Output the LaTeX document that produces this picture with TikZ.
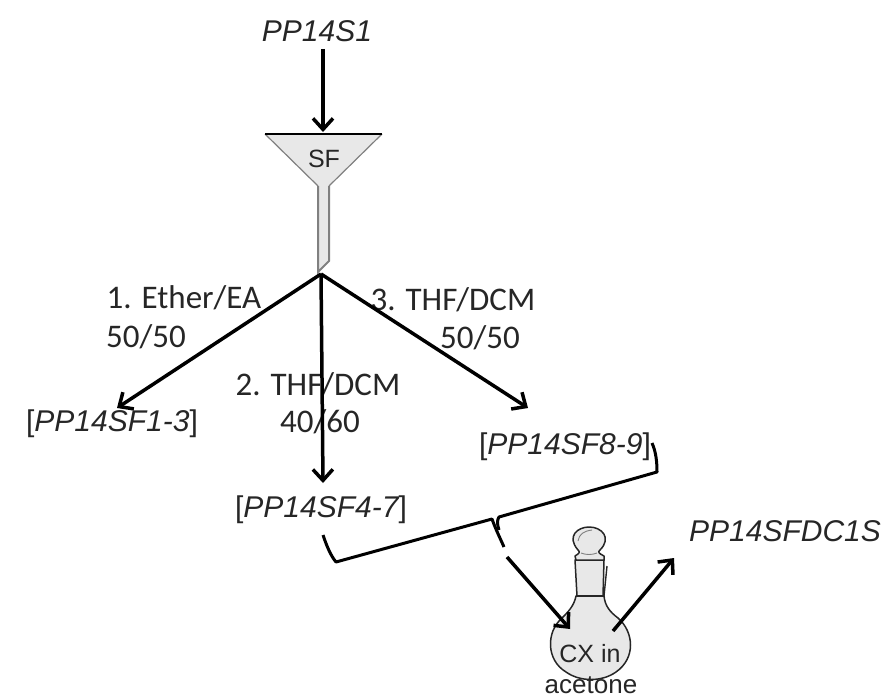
\documentclass[tikz,border=0pt]{standalone}
\usepackage{fontspec}
\setmainfont{Liberation Sans}
\newfontfamily\calib{Carlito}
\usetikzlibrary{arrows.meta}
\definecolor{fillgrey}{HTML}{E8E8E8}
\definecolor{ink}{HTML}{262626}
\tikzset{
  flow/.style={draw=black,line width=3.5pt,-{Straight Barb[length=11pt,width=20pt,line width=3.5pt]}},
  brace/.style={draw=black,line width=3pt,line join=round},
  sample/.style={inner sep=0pt,font=\fontsize{30}{34}\selectfont\itshape,text=ink},
  plain/.style={inner sep=0pt,font=\fontsize{25}{28}\selectfont,text=ink},
  solvent/.style={inner sep=0pt,font=\calib\fontsize{33}{39}\selectfont,text=ink}
  ,vessel/.style={draw=ink,line width=1.5pt,fill=fillgrey,line join=round}
}
\begin{document}
\begin{tikzpicture}[x=1pt,y=-1pt]
\useasboundingbox (0,0) rectangle (885,698);
% funnel
\fill[fillgrey] (265,134) -- (382,134) -- (329,186) -- (329,261) -- (318,272) -- (318,186) -- cycle;
\draw[draw=gray,line width=1.2pt] (265,134) -- (318,186);
\draw[draw=gray,line width=1.2pt] (382,134) -- (329,186);
\draw[draw=gray,line width=2pt] (318,186) -- (318,272) -- (329,261) -- (329,186);
\draw[draw=black,line width=1.6pt] (265,134) -- (382,134);
\node[plain] (sf) at (324,159) {SF};
% flask
\draw[vessel] (576,596) .. controls (574,606) and (568,612) .. (562,618)
  .. controls (546,632) and (546,660) .. (566,672)
  .. controls (580,682) and (602,682) .. (616,672)
  .. controls (636,658) and (634,632) .. (618,618)
  .. controls (610,612) and (605,606) .. (604,596) -- cycle;
\draw[vessel] (575,560) -- (604,560) -- (603,596) -- (577,596) -- cycle;
\draw[draw=ink,line width=1.4pt] (607,566) -- (604,596);
\draw[draw=ink,line width=2pt] (577,596) -- (603,596);
\draw[vessel] (576,560) -- (575,556) .. controls (580,553) and (580,552) .. (578,550)
  .. controls (566,536) and (578,527) .. (589,527)
  .. controls (602,527) and (612,538) .. (600,550)
  .. controls (598,552) and (598,553) .. (604,556) -- (604,560) -- cycle;
\draw[draw=gray,line width=0.9pt] (578,541) .. controls (579,534) and (584,531) .. (592,530);
\draw[draw=gray,line width=0.9pt] (581,553) .. controls (586,555) and (592,555) .. (597,553);
\node[plain] (cx) at (590,654) {CX in};
\node[plain,font=\fontsize{26}{28}\selectfont] (ac) at (591,685) {acetone};
% text
\node[sample] (s1) at (317,31) {PP14S1};
\node[sample] (f13) at (112,424) {\upshape[\itshape PP14SF1-3\upshape]};
\node[sample] (f47) at (321,510) {\upshape[\itshape PP14SF4-7\upshape]};
\node[sample] (f89) at (565,447) {\upshape[\itshape PP14SF8-9\upshape]};
\node[sample] (dc) at (785,531) {PP14SFDC1S};
\node[solvent] (e1) at (184,298) {1. Ether/EA};
\node[solvent] (e2) at (146,337) {50/50};
\node[solvent] (t21) at (318,385) {2. THF/DCM};
\node[solvent] (t22) at (320,422) {40/60};
\node[solvent] (t31) at (453,300) {3. THF/DCM};
\node[solvent] (t32) at (480,338) {50/50};
% connectors
\coordinate (fork) at (321,274);
\coordinate (a1) at (117,408);
\coordinate (a2) at (323,483);
\coordinate (a3) at (528,408);
\draw[flow] (323,49) -- (323,132);
\draw[flow] (fork) -- (a1);
\draw[flow] (fork) -- (a2);
\draw[flow] (fork) -- (a3);
\draw[brace] (323,535) .. controls (327,547) and (331,556) .. (336,562) -- (492,519) .. controls (496,530) and (500,538) .. (504,547);
\draw[brace] (652,443) .. controls (656,452) and (657,462) .. (657,472) -- (499,517) .. controls (497,520) and (497,524) .. (499,530);
\draw[flow] (507,557) -- (570,629);
\draw[flow] (613,631) -- (674,558);
\end{tikzpicture}
\end{document}
